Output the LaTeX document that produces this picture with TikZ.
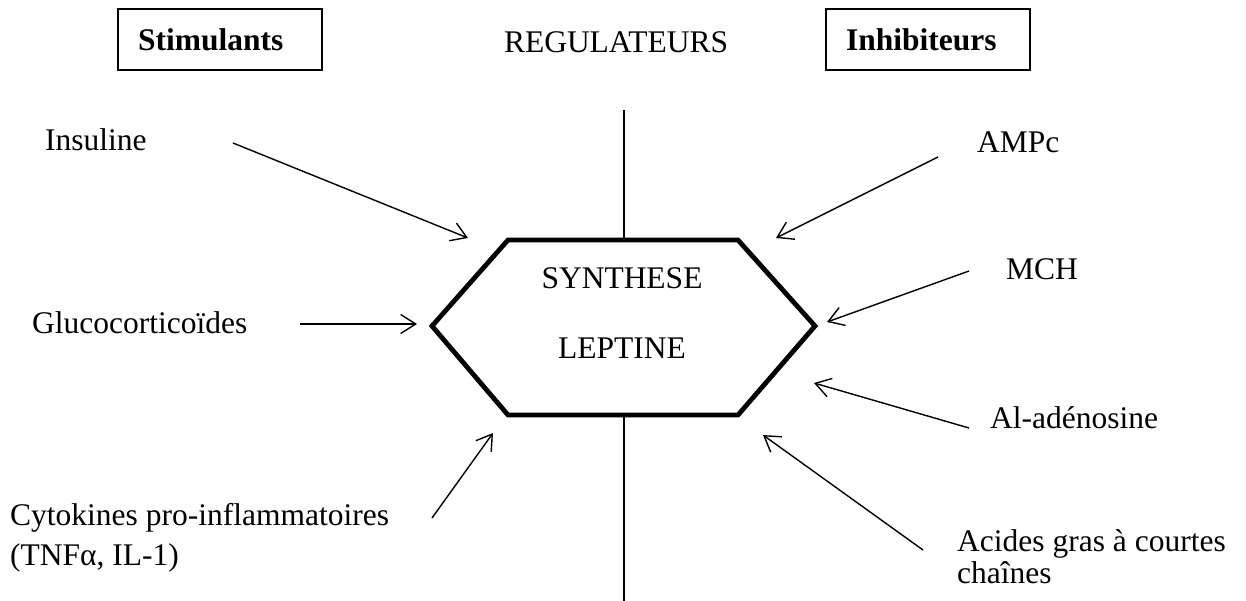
\documentclass[tikz,border=0pt]{standalone}
\usepackage{fontspec}
\setmainfont{Liberation Serif}
\usetikzlibrary{arrows.meta}
\begin{document}
\begin{tikzpicture}[x=1pt,y=-1pt,
  lbl/.style={inner sep=0pt, anchor=base west, font=\fontsize{31.5}{38}\selectfont},
  hdrbox/.style={draw, line width=1.1pt, minimum height=61pt, inner xsep=20pt, inner ysep=0pt,
    text width=164pt, align=left, font=\fontsize{31.5}{38}\selectfont\bfseries},
  arr/.style={line width=1.4pt, -{Straight Barb[length=15pt,width=19pt,line width=1.4pt]}},
  hexline/.style={line width=4.8pt, line join=miter},
  stem/.style={line width=1.6pt}]
\useasboundingbox (0,0) rectangle (1246,600);

% header
\node[hdrbox] (stim) at (220,39.5) {Stimulants};
\node[hdrbox] (inhib) at (928,39.5) {Inhibiteurs};
\node[inner sep=0pt, anchor=base, font=\fontsize{31.5}{38}\selectfont] (reg) at (616,52) {REGULATEURS};

% hexagon
\coordinate (h1) at (508,240);
\coordinate (h2) at (738,240);
\coordinate (h3) at (815,326);
\coordinate (h4) at (738,415);
\coordinate (h5) at (508,415);
\coordinate (h6) at (432,326);
\draw[hexline] (h1) -- (h2) -- (h3) -- (h4) -- (h5) -- (h6) -- cycle;
\node[inner sep=0pt, anchor=base, align=center, font=\fontsize{31.5}{70}\selectfont] (synth) at (622,358) {SYNTHESE\\LEPTINE};

% stems
\coordinate (htop) at (624,240);
\coordinate (hbot) at (624,415);
\coordinate (stemtop) at (624,110);
\coordinate (stembot) at (624,602);
\draw[stem] (stemtop) -- (htop);
\draw[stem] (hbot) -- (stembot);

% labels
\node[lbl] (insu) at (45,150) {Insuline};
\node[lbl] (gluco) at (32,333) {Glucocorticoïdes};
\node[lbl, align=left, font=\fontsize{31.5}{40}\selectfont] (cyto) at (10,565) {Cytokines pro-inflammatoires\\(TNFα, IL-1)};
\node[lbl] (ampc) at (977,152) {AMPc};
\node[lbl] (mch) at (1006,279) {MCH};
\node[lbl] (aden) at (990,428) {Al-adénosine};
\node[lbl, align=left, font=\fontsize{31.5}{32}\selectfont] (acid) at (957,583) {Acides gras à courtes\\chaînes};

% arrow coordinates
\coordinate (a1s) at (233,143); \coordinate (a1e) at (468,238);
\coordinate (a2s) at (300,324); \coordinate (a2e) at (417,324);
\coordinate (a3s) at (432,518); \coordinate (a3e) at (493,433);
\coordinate (a4s) at (938,157); \coordinate (a4e) at (776,238);
\coordinate (a5s) at (969,271); \coordinate (a5e) at (827,322);
\coordinate (a6s) at (969,428); \coordinate (a6e) at (814,383);
\coordinate (a7s) at (923,550); \coordinate (a7e) at (763,435);

\draw[arr] (a1s) -- (a1e);
\draw[arr] (a2s) -- (a2e);
\draw[arr] (a3s) -- (a3e);
\draw[arr] (a4s) -- (a4e);
\draw[arr] (a5s) -- (a5e);
\draw[arr] (a6s) -- (a6e);
\draw[arr] (a7s) -- (a7e);
\end{tikzpicture}
\end{document}
